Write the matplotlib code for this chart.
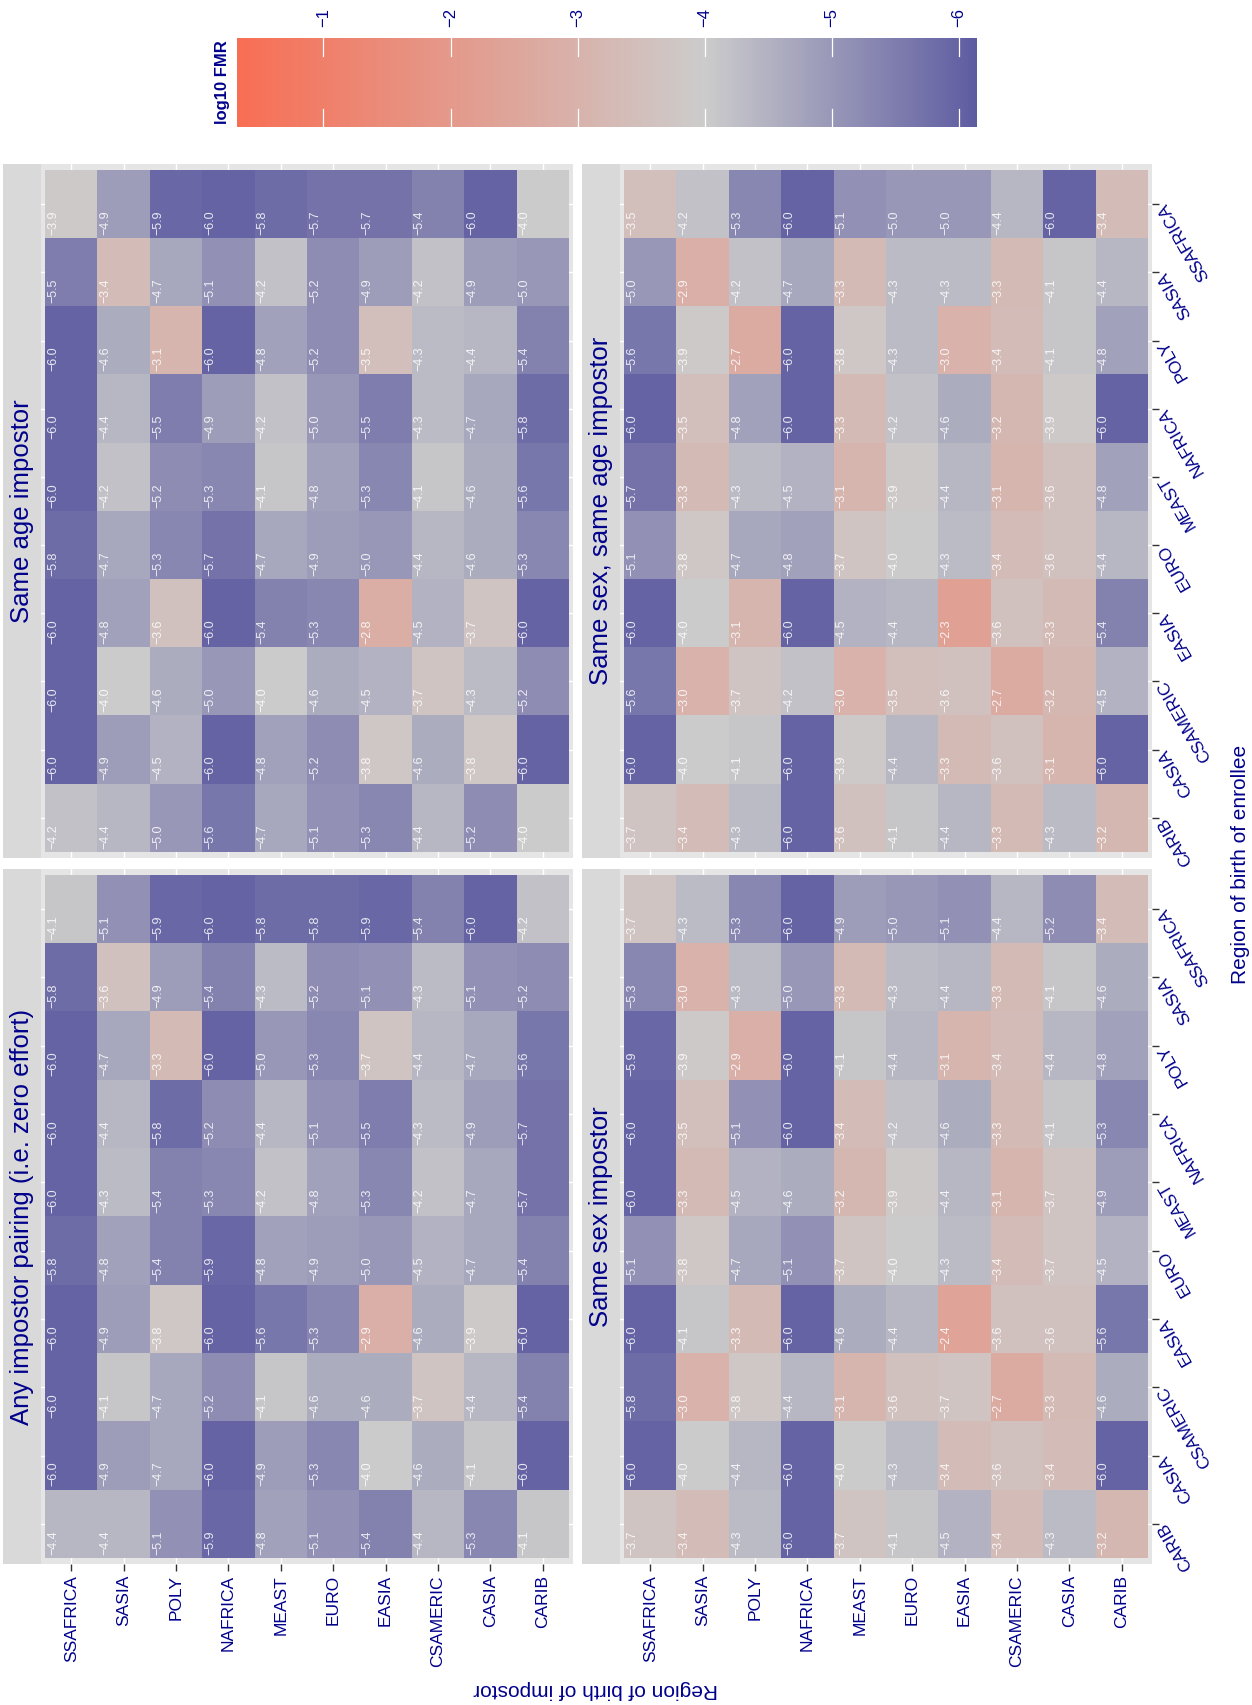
import numpy as np
import matplotlib
matplotlib.use("Agg")
import matplotlib.pyplot as plt
from matplotlib.colors import LinearSegmentedColormap, Normalize
from matplotlib.cm import ScalarMappable

plt.rcParams["font.family"] = ["Liberation Sans", "DejaVu Sans"]

# Regions of birth (same order for enrollee and impostor)
regions = ["SSAFRICA", "SASIA", "POLY", "NAFRICA", "MEAST",
           "EURO", "EASIA", "CSAMERIC", "CASIA", "CARIB"]

# log10 FMR; each inner list is one enrollee region, entries run over impostor regions
fmr_same_age = [
    [-3.9, -4.9, -5.9, -6.0, -5.8, -5.7, -5.7, -5.4, -6.0, -4.0],
    [-5.5, -3.4, -4.7, -5.1, -4.2, -5.2, -4.9, -4.2, -4.9, -5.0],
    [-6.0, -4.6, -3.1, -6.0, -4.8, -5.2, -3.5, -4.3, -4.4, -5.4],
    [-6.0, -4.4, -5.5, -4.9, -4.2, -5.0, -5.5, -4.3, -4.7, -5.8],
    [-6.0, -4.2, -5.2, -5.3, -4.1, -4.8, -5.3, -4.1, -4.6, -5.6],
    [-5.8, -4.7, -5.3, -5.7, -4.7, -4.9, -5.0, -4.4, -4.6, -5.3],
    [-6.0, -4.8, -3.6, -6.0, -5.4, -5.3, -2.8, -4.5, -3.7, -6.0],
    [-6.0, -4.0, -4.6, -5.0, -4.0, -4.6, -4.5, -3.7, -4.3, -5.2],
    [-6.0, -4.9, -4.5, -6.0, -4.8, -5.2, -3.8, -4.6, -3.8, -6.0],
    [-4.2, -4.4, -5.0, -5.6, -4.7, -5.1, -5.3, -4.4, -5.2, -4.0],
]

fmr_same_sex_age = [
    [-3.5, -4.2, -5.3, -6.0, -5.1, -5.0, -5.0, -4.4, -6.0, -3.4],
    [-5.0, -2.9, -4.2, -4.7, -3.3, -4.3, -4.3, -3.3, -4.1, -4.4],
    [-5.6, -3.9, -2.7, -6.0, -3.8, -4.3, -3.0, -3.4, -4.1, -4.8],
    [-6.0, -3.5, -4.8, -6.0, -3.3, -4.2, -4.6, -3.2, -3.9, -6.0],
    [-5.7, -3.3, -4.3, -4.5, -3.1, -3.9, -4.4, -3.1, -3.6, -4.8],
    [-5.1, -3.8, -4.7, -4.8, -3.7, -4.0, -4.3, -3.4, -3.6, -4.4],
    [-6.0, -4.0, -3.1, -6.0, -4.5, -4.4, -2.3, -3.6, -3.3, -5.4],
    [-5.6, -3.0, -3.7, -4.2, -3.0, -3.5, -3.6, -2.7, -3.2, -4.5],
    [-6.0, -4.0, -4.1, -6.0, -3.9, -4.4, -3.3, -3.6, -3.1, -6.0],
    [-3.7, -3.4, -4.3, -6.0, -3.6, -4.1, -4.4, -3.3, -4.3, -3.2],
]

fmr_any = [
    [-4.1, -5.1, -5.9, -6.0, -5.8, -5.8, -5.9, -5.4, -6.0, -4.2],
    [-5.8, -3.6, -4.9, -5.4, -4.3, -5.2, -5.1, -4.3, -5.1, -5.2],
    [-6.0, -4.7, -3.3, -6.0, -5.0, -5.3, -3.7, -4.4, -4.7, -5.6],
    [-6.0, -4.4, -5.8, -5.2, -4.4, -5.1, -5.5, -4.3, -4.9, -5.7],
    [-6.0, -4.3, -5.4, -5.3, -4.2, -4.8, -5.3, -4.2, -4.7, -5.7],
    [-5.8, -4.8, -5.4, -5.9, -4.8, -4.9, -5.0, -4.5, -4.7, -5.4],
    [-6.0, -4.9, -3.8, -6.0, -5.6, -5.3, -2.9, -4.6, -3.9, -6.0],
    [-6.0, -4.1, -4.7, -5.2, -4.1, -4.6, -4.6, -3.7, -4.4, -5.4],
    [-6.0, -4.9, -4.7, -6.0, -4.9, -5.3, -4.0, -4.6, -4.1, -6.0],
    [-4.4, -4.4, -5.1, -5.9, -4.8, -5.1, -5.4, -4.4, -5.3, -4.1],
]

fmr_same_sex = [
    [-3.7, -4.3, -5.3, -6.0, -4.9, -5.0, -5.1, -4.4, -5.2, -3.4],
    [-5.3, -3.0, -4.3, -5.0, -3.3, -4.3, -4.4, -3.3, -4.1, -4.6],
    [-5.9, -3.9, -2.9, -6.0, -4.1, -4.4, -3.1, -3.4, -4.4, -4.8],
    [-6.0, -3.5, -5.1, -6.0, -3.4, -4.2, -4.6, -3.3, -4.1, -5.3],
    [-6.0, -3.3, -4.5, -4.6, -3.2, -3.9, -4.4, -3.1, -3.7, -4.9],
    [-5.1, -3.8, -4.7, -5.1, -3.7, -4.0, -4.3, -3.4, -3.7, -4.5],
    [-6.0, -4.1, -3.3, -6.0, -4.6, -4.4, -2.4, -3.6, -3.6, -5.6],
    [-5.8, -3.0, -3.8, -4.4, -3.1, -3.6, -3.7, -2.7, -3.3, -4.6],
    [-6.0, -4.0, -4.4, -6.0, -4.0, -4.3, -3.4, -3.6, -3.4, -6.0],
    [-3.7, -3.4, -4.3, -6.0, -3.7, -4.1, -4.5, -3.4, -4.3, -3.2],
]

panel_titles = ["Same age impostor", "Same sex, same age impostor",
                "Any impostor pairing (i.e. zero effort)", "Same sex impostor"]
legend_ticks = [-1, -2, -3, -4, -5, -6]
legend_title = "log10 FMR"
scale_limits = (-6.14, -0.32)
x_title = "Region of birth of impostor"
y_title = "Region of birth of enrollee"

NAVY = "#00008B"
W, H = 1252, 1705
fig = plt.figure(figsize=(W / 100, H / 100), dpi=100)


def rect(x0, y0, x1, y1):
    """Pixel box (origin at top-left) -> figure fraction [l, b, w, h]."""
    return [x0 / W, 1 - y1 / H, (x1 - x0) / W, (y1 - y0) / H]


# diverging palette: blue (low) -> grey (mid, -4) -> coral (high)
lo, hi = scale_limits
mid = -4.0
cmap = LinearSegmentedColormap.from_list(
    "fmr",
    [(0.0, (94 / 255, 92 / 255, 161 / 255)),
     ((mid - lo) / (hi - lo), (204 / 255, 204 / 255, 204 / 255)),
     (1.0, (248 / 255, 110 / 255, 84 / 255))])
norm = Normalize(vmin=lo, vmax=hi)

panels = [
    (fmr_same_age, panel_titles[0], 0, 0),
    (fmr_same_sex_age, panel_titles[1], 1, 0),
    (fmr_any, panel_titles[2], 0, 1),
    (fmr_same_sex, panel_titles[3], 1, 1),
]
col_x = [(3, 41, 573), (582, 620, 1152)]   # strip left, panel left, panel right
row_y = [(164, 858), (869, 1564)]          # panel top, panel bottom

n = len(regions)
pad_x = 0.08
pad_y = 0.088

for data, title, c, r in panels:
    sx, px0, px1 = col_x[c]
    py0, py1 = row_y[r]

    # facet strip
    sax = fig.add_axes(rect(sx, py0, px0, py1))
    sax.set_facecolor("#D9D9D9")
    sax.set_xticks([])
    sax.set_yticks([])
    for s in sax.spines.values():
        s.set_visible(False)
    sax.text(0.5, 0.5, title, rotation=90, ha="center", va="center",
             fontsize=18.5, color=NAVY, transform=sax.transAxes)

    ax = fig.add_axes(rect(px0, py0, px1, py1))
    ax.set_facecolor("#E5E5E5")
    for s in ax.spines.values():
        s.set_visible(False)
    arr = np.array(data)
    ax.imshow(arr, cmap=cmap, norm=norm, aspect="auto",
              interpolation="nearest", zorder=2)
    ax.set_xlim(-0.5 - pad_x, n - 0.5 + pad_x)
    ax.set_ylim(n - 0.5 + pad_y, -0.5 - pad_y)
    ax.set_xticks(range(n))
    ax.set_yticks(range(n))
    ax.set_axisbelow(True)
    ax.grid(True, color="white", lw=1.0, zorder=0)

    for j in range(n):
        for i in range(n):
            v = arr[j, i]
            ax.text(i - 0.5 + 0.04, j + 0.5 - 0.05,
                    f"{v:.1f}".replace("-", "\u2212"),
                    rotation=90, rotation_mode="anchor", ha="left", va="top",
                    fontsize=9, color="white", alpha=0.85, zorder=3)

    # impostor axis (bottom row only)
    if r == 1:
        ax.set_xticklabels(regions, rotation=90, fontsize=12.5, color=NAVY)
        ax.tick_params(axis="x", length=5, width=1.0, color="#333333", pad=3)
    else:
        ax.tick_params(axis="x", length=0, labelbottom=False)

    # enrollee axis (right column only)
    ax.yaxis.tick_right()
    if c == 1:
        ax.set_yticklabels(regions, fontsize=12.5, color=NAVY)
        for lbl in ax.get_yticklabels():
            lbl.set_rotation(120)
            lbl.set_rotation_mode("anchor")
            lbl.set_ha("right")
            lbl.set_va("center")
        ax.tick_params(axis="y", length=5, width=1.0, color="#333333", pad=2)
    else:
        ax.tick_params(axis="y", length=0, labelright=False)

# axis titles
fig.text(596 / W, 1 - 1690 / H, x_title, rotation=180, ha="center", va="center",
         fontsize=15, color=NAVY)
fig.text(1240 / W, 1 - 864 / H, y_title, rotation=90, ha="center", va="center",
         fontsize=15, color=NAVY)

# colour legend
cax = fig.add_axes(rect(237, 38, 977, 127))
sm = ScalarMappable(norm=norm, cmap=cmap)
cb = fig.colorbar(sm, cax=cax, orientation="horizontal")
cb.outline.set_visible(False)
cax.invert_xaxis()
cax.xaxis.set_ticks_position("top")
cax.set_xticks(legend_ticks)
cax.set_xticklabels([f"{t}".replace("-", "\u2212") for t in legend_ticks],
                    rotation=90, fontsize=12, color=NAVY)
cax.tick_params(axis="x", length=0, pad=8)
cax.minorticks_off()
for t in legend_ticks:
    cax.axvline(t, ymin=0, ymax=0.2, color="white", lw=0.9)
    cax.axvline(t, ymin=0.8, ymax=1.0, color="white", lw=0.9)
fig.text(223 / W, 1 - 82 / H, legend_title, rotation=90, ha="center", va="center",
         fontsize=12, fontweight="bold", color=NAVY)

fig.savefig("out.png", dpi=100)
